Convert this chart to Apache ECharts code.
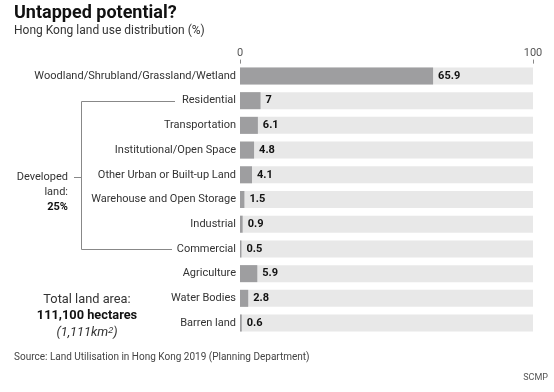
<!DOCTYPE html>
<html><head><meta charset="utf-8">
<script src="https://cdn.jsdelivr.net/npm/echarts@6/dist/echarts.min.js"></script>
<style>html,body{margin:0;padding:0;background:#fff}#c{width:554px;height:392px}</style>
</head><body><div id="c"></div>
<script>
const categories = ["Woodland/Shrubland/Grassland/Wetland","Residential","Transportation","Institutional/Open Space","Other Urban or Built-up Land","Warehouse and Open Storage","Industrial","Commercial","Agriculture","Water Bodies","Barren land"];
const values = [65.9, 7, 6.1, 4.8, 4.1, 1.5, 0.9, 0.5, 5.9, 2.8, 0.6];
const tickValues = [0, 100];
const developedFirst = "Residential", developedLast = "Commercial";

const FONT = 'Roboto, "Noto Sans", sans-serif';
const chart = echarts.init(document.getElementById('c'), null, {renderer: 'canvas'});
const option = {
  animation: false,
  textStyle: {fontFamily: FONT},
  grid: {left: 240, right: 21, top: 63.6, bottom: 56.6, containLabel: false},
  xAxis: {
    type: 'value', position: 'top', min: tickValues[0], max: tickValues[1], interval: 100,
    axisLine: {show: false}, splitLine: {show: false},
    axisTick: {show: true, length: 4, lineStyle: {color: '#888'}},
    axisLabel: {color: '#555', fontSize: 11, fontFamily: FONT, margin: 5}
  },
  yAxis: {
    type: 'category', data: categories, inverse: true,
    axisLine: {show: false}, axisTick: {show: false},
    axisLabel: {color: '#333', fontSize: 11, fontFamily: FONT, margin: 4}
  },
  series: [{
    type: 'bar', data: values, barWidth: 17,
    itemStyle: {color: '#9e9ea0'},
    showBackground: true, backgroundStyle: {color: '#e8e8e8'},
    label: {show: true, position: 'right', distance: 5, color: '#111', fontWeight: 'bold', fontSize: 11, fontFamily: FONT}
  }],
  graphic: []
};
chart.setOption(option);

const yTop = chart.convertToPixel({yAxisIndex: 0}, developedFirst);
const yBot = chart.convertToPixel({yAxisIndex: 0}, developedLast);
const yMid = (yTop + yBot) / 2 + 2;
const lineStyle = {stroke: '#888', lineWidth: 1};
chart.setOption({graphic: [
  {type: 'text', left: 14, top: 4, style: {text: 'Untapped potential?', font: 'bold 18px ' + FONT, fill: '#111'}},
  {type: 'text', left: 14, top: 25, style: {text: 'Hong Kong land use distribution (%)', font: '12px ' + FONT, fill: '#333'}},
  {type: 'polyline', shape: {points: [[175, Math.round(yTop) + 0.5], [81.5, Math.round(yTop) + 0.5], [81.5, Math.round(yBot) + 0.5], [172, Math.round(yBot) + 0.5]]}, style: Object.assign({fill: null}, lineStyle)},
  {type: 'line', shape: {x1: 74, y1: Math.round(yMid) + 0.5, x2: 81.5, y2: Math.round(yMid) + 0.5}, style: lineStyle},
  {type: 'text', x: 68, y: yMid, style: {text: 'Developed', font: '11px ' + FONT, fill: '#333', align: 'right', verticalAlign: 'middle'}},
  {type: 'text', x: 68, y: yMid + 15, style: {text: 'land:', font: '11px ' + FONT, fill: '#333', align: 'right', verticalAlign: 'middle'}},
  {type: 'text', x: 68, y: yMid + 30, style: {text: '25%', font: 'bold 11px ' + FONT, fill: '#111', align: 'right', verticalAlign: 'middle'}},
  {type: 'text', x: 87, y: 300, style: {text: 'Total land area:', font: '12.8px ' + FONT, fill: '#333', align: 'center', verticalAlign: 'middle'}},
  {type: 'text', x: 87, y: 316, style: {text: '111,100 hectares', font: 'bold 12.8px ' + FONT, fill: '#111', align: 'center', verticalAlign: 'middle'}},
  {type: 'text', x: 87, y: 333, style: {text: '(1,111km{s|2})', font: 'italic 12.8px ' + FONT, fill: '#333', align: 'center', verticalAlign: 'middle', rich: {s: {fontSize: 9, fontStyle: 'italic', verticalAlign: 'top', padding: [0,0,6,0]}}}},
  {type: 'text', left: 14, y: 357, style: {text: 'Source: Land Utilisation in Hong Kong 2019 (Planning Department)', font: '10px ' + FONT, fill: '#444', verticalAlign: 'middle'}},
  {type: 'text', x: 548, y: 378, style: {text: 'SCMP', font: '9px ' + FONT, fill: '#555', align: 'right', verticalAlign: 'middle'}}
]});
</script></body></html>
